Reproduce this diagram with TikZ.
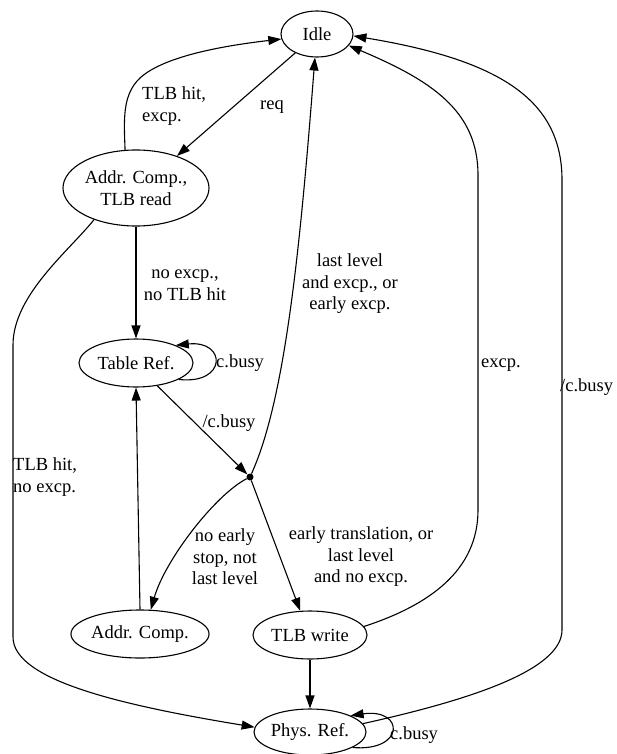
\documentclass[tikz,border=0pt]{standalone}
\usepackage{fontspec}
\setmainfont{Liberation Serif}
\usetikzlibrary{shapes.geometric,arrows.meta}
\begin{document}
\begin{tikzpicture}[x=1pt,y=-1pt,
  state/.style={draw,ellipse,line width=1.1pt,inner sep=0pt,font=\fontsize{18.5}{21.5}\selectfont,align=center},
  lbl/.style={inner sep=0pt,font=\fontsize{18.5}{21.5}\selectfont,align=center},
  edge/.style={line width=1.1pt,-{Triangle[length=13pt,width=9pt]}},
  junction/.style={circle,fill=black,inner sep=0pt,minimum size=7pt}]
\path[use as bounding box] (0,0) rectangle (616,754);

% states
\node[state,minimum width=72pt,minimum height=46pt]  (idle) at (317,34)  {Idle};
\node[state,minimum width=146pt,minimum height=76pt] (acr)  at (136,188) {Addr. Comp.,\\TLB read};
\node[state,minimum width=114pt,minimum height=48pt] (tref) at (136,363) {Table Ref.};
\node[junction] (dot) at (250,477) {};
\node[state,minimum width=134pt,minimum height=48pt] (ac)   at (140,634) {Addr. Comp.};
\node[state,minimum width=114pt,minimum height=48pt] (tw)   at (310,635) {TLB write};
\node[state,minimum width=112pt,minimum height=46pt] (pr)   at (310,732) {Phys. Ref.};

% transitions
\draw[edge] (idle.-139) -- (acr.38.5);
\draw[edge] (acr.106) .. controls (124,120) and (122,95) .. (140,78)
            .. controls (165,55) and (230,45) .. (idle.188);
\draw[edge] (acr.south) -- (tref.north);
\draw[edge] (tref.-21) .. controls (227,385) and (227,340) .. (tref.24);
\draw[edge] (tref.-47.5) -- (dot);
\draw[edge] (dot) .. controls (285,400) and (300,250) .. (idle.-95);
\draw[edge] (dot) .. controls (215,495) and (165,560) .. (ac.66.5);
\draw[edge] (dot) -- (tw.112.6);
\draw[edge] (ac.north) -- (tref.south);
\draw[edge] (tw.south) -- (pr.north);
\draw[edge] (tw.9) .. controls (430,605) and (478,570) .. (478,510) -- (478,175)
            .. controls (478,110) and (430,80) .. (idle.-20);
\draw[edge] (acr.-143) .. controls (70,250) and (13,295) .. (13,345) -- (13,637)
            .. controls (13,680) and (120,705) .. (pr.175);
\draw[edge] (pr.9.6) .. controls (470,700) and (562,670) .. (562,630) -- (562,180)
            .. controls (562,100) and (500,60) .. (idle.-3);
\draw[edge] (pr.-20) .. controls (405,752) and (405,708) .. (pr.22);

% transition labels
\node[lbl,anchor=west,align=left] (l1) at (142,106) {TLB hit,\\excp.};
\node[lbl] (l2) at (272,107) {req};
\node[lbl] (l3) at (185,285) {no excp.,\\no TLB hit};
\node[lbl,anchor=west] (l4) at (216,363) {c.busy};
\node[lbl] (l5) at (229,423) {/c.busy};
\node[lbl] (l6) at (350,284) {last level\\and excp., or\\early excp.};
\node[lbl,anchor=west] (l7) at (481,365) {excp.};
\node[lbl,anchor=west] (l8) at (560,387) {/c.busy};
\node[lbl,anchor=west,align=left] (l9) at (13,477) {TLB hit,\\no excp.};
\node[lbl] (l10) at (225,557) {no early\\stop, not\\last level};
\node[lbl] (l11) at (361,557) {early translation, or\\last level\\and no excp.};
\node[lbl,anchor=west] (l12) at (390,735) {c.busy};
\end{tikzpicture}
\end{document}
